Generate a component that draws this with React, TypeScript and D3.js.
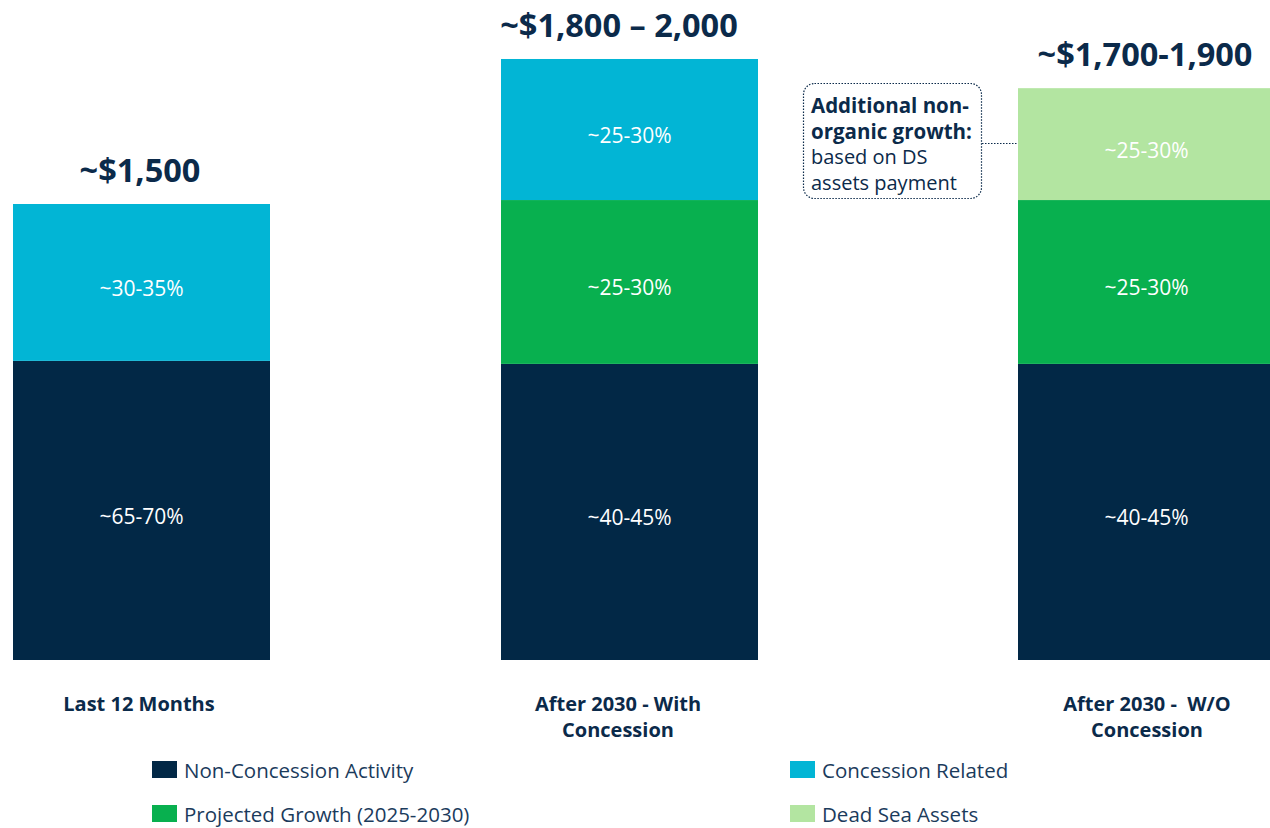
import React from "react";
import * as d3 from "d3";

const categories = ["Last 12 Months", "After 2030 - With Concession", "After 2030 -  W/O Concession"];
const categoryLines = [["Last 12 Months"], ["After 2030 - With", "Concession"], ["After 2030 -  W/O", "Concession"]];
const totals = ["~$1,500", "~$1,800 \u2013 2,000", "~$1,700-1,900"];
const seriesKeys = ["nonConcession", "growth", "concession", "deadSea"];
const seriesNames = ["Non-Concession Activity", "Projected Growth (2025-2030)", "Concession Related", "Dead Sea Assets"];
const seriesColors = ["#022846", "#08b04f", "#02b5d5", "#b3e5a1"];
const nonConcession = [984, 974, 974];
const growth = [0, 539, 539];
const concession = [516, 464, 0];
const deadSea = [0, 0, 368];
const segmentLabels = [
  ["~65-70%", "", "~30-35%", ""],
  ["~40-45%", "~25-30%", "~25-30%", ""],
  ["~40-45%", "~25-30%", "", "~25-30%"],
];
const calloutLines = ["Additional non-", "organic growth:", "based on DS", "assets payment"];
const calloutBoldCount = 2;

const FONT = "'Open Sans', 'Noto Sans', sans-serif";
const NAVY = "#0b2a4a";

export default function App() {
  React.useEffect(() => {
    document.body.style.margin = "0";
  }, []);
  const W = 1270, H = 828;
  const rows = categories.map((c, i) => ({
    cat: c,
    nonConcession: nonConcession[i],
    growth: growth[i],
    concession: concession[i],
    deadSea: deadSea[i],
  }));
  const stacked = d3.stack<any>().keys(seriesKeys)(rows);
  const x = d3.scaleOrdinal<string, number>().domain(categories).range([13, 501, 1018]);
  const labelX = d3.scaleOrdinal<string, number>().domain(categories).range([140, 619, 1145]);
  const catX = d3.scaleOrdinal<string, number>().domain(categories).range([139, 618, 1147]);
  const bw = 257;
  const y = d3.scaleLinear().domain([0, 1500]).range([660, 204]);

  return (
    <svg width={W} height={H} style={{ display: "block", fontFamily: FONT }}>
      {stacked.map((s, si) =>
        s.map((d, ci) => {
          if (d[1] - d[0] <= 0) return null;
          const x0 = x(categories[ci]);
          const yTop = y(d[1]);
          const yBot = y(d[0]);
          const lab = segmentLabels[ci][si];
          return (
            <g key={`${si}-${ci}`}>
              <rect x={x0} y={yTop} width={bw} height={yBot - yTop} fill={seriesColors[si]} />
              {lab && (
                <text x={x0 + bw / 2} y={(yTop + yBot) / 2 + 13.5} textAnchor="middle" fill="#ffffff" fontSize={21}>
                  {lab}
                </text>
              )}
            </g>
          );
        })
      )}
      {categories.map((c, i) => {
        const top = y(stacked[stacked.length - 1][i][1]);
        return (
          <text key={"t" + i} x={labelX(c)} y={top - 22} textAnchor="middle" fill={NAVY} fontSize={32.5} fontWeight={700}>
            {totals[i]}
          </text>
        );
      })}
      {categories.map((c, i) => (
        <text key={"c" + i} x={catX(c)} textAnchor="middle" fill={NAVY} fontSize={20} fontWeight={700} style={{ whiteSpace: "pre" }}>
          {categoryLines[i].map((ln, li) => (
            <tspan key={li} x={catX(c)} y={711 + li * 26}>{ln}</tspan>
          ))}
        </text>
      ))}
      {/* callout */}
      <rect x={803.5} y={83.5} width={178} height={115} rx={11} fill="none" stroke={NAVY} strokeWidth={1.2} strokeDasharray="1.5,1.5" />
      <line x1={982} x2={1018} y1={143.5} y2={143.5} stroke={NAVY} strokeWidth={1.2} strokeDasharray="1.5,1.5" />
      <text fill={NAVY}>
        {calloutLines.map((t, i) => (
          <tspan
            key={"cl" + i}
            x={811}
            y={113 + i * 25.5}
            fontSize={i < calloutBoldCount ? 20.5 : 20}
            fontWeight={i < calloutBoldCount ? 700 : 400}
          >
            {t}
          </tspan>
        ))}
      </text>
      {/* legend */}
      {seriesNames.map((n, i) => {
        const col = i === 0 || i === 1 ? 0 : 1;
        const row = i === 0 || i === 2 ? 0 : 1;
        const lx = col === 0 ? 152 : 790;
        const ly = 761 + row * 44;
        return (
          <g key={"l" + i}>
            <rect x={lx} y={ly} width={25} height={17} fill={seriesColors[i]} />
            <text x={lx + 32} y={ly + 16.5} fill="#1b3b5c" fontSize={20.5}>{n}</text>
          </g>
        );
      })}
    </svg>
  );
}
